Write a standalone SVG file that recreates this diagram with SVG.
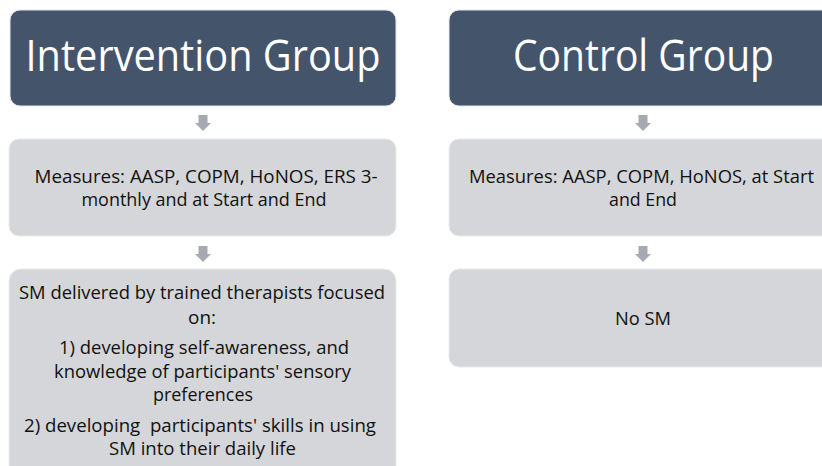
<svg xmlns="http://www.w3.org/2000/svg" width="822" height="466" viewBox="0 0 822 466">
<style>
.hdr{fill:#44546A;stroke:#E4E6EA;stroke-width:1}
.box{fill:#D5D6D9;stroke:#E9EAEC;stroke-width:1}
.ht{font-family:"Open Sans","Liberation Sans",sans-serif;font-size:44px;fill:#FFFFFF;text-anchor:middle}
.bt{font-family:"Open Sans","Liberation Sans",sans-serif;font-size:18px;fill:#111111;text-anchor:middle}
.arr{fill:#A6A9AF}
</style>
<defs>
<path id="darrow" d="M-4.5,0 H4.5 V8 H8 L0,16 L-8,8 H-4.5 Z"/>
</defs>
<rect width="822" height="466" fill="#FFFFFF"/>
<g id="connectors">
<use href="#darrow" class="arr" x="203" y="115"/>
<use href="#darrow" class="arr" x="203" y="246"/>
<use href="#darrow" class="arr" x="643" y="115"/>
<use href="#darrow" class="arr" x="643" y="246"/>
</g>
<g id="intervention-group">
<rect class="hdr" x="10" y="10" width="386" height="96" rx="10"/>
<text class="ht" x="203" y="71" textLength="355" lengthAdjust="spacingAndGlyphs">Intervention Group</text>
</g>
<g id="intervention-measures">
<rect class="box" x="9" y="139" width="387" height="97" rx="10"/>
<text class="bt" x="206" y="182.5" textLength="343" lengthAdjust="spacingAndGlyphs">Measures: AASP, COPM, HoNOS, ERS 3-</text>
<text class="bt" x="204" y="205.5" textLength="245" lengthAdjust="spacingAndGlyphs">monthly and at Start and End</text>
</g>
<g id="intervention-sm">
<rect class="box" x="9" y="269" width="387" height="215" rx="12"/>
<text class="bt" x="202" y="299" textLength="366" lengthAdjust="spacingAndGlyphs">SM delivered by trained therapists focused</text>
<text class="bt" x="202" y="323.5" textLength="28" lengthAdjust="spacingAndGlyphs">on:</text>
<text class="bt" x="204" y="354" textLength="290" lengthAdjust="spacingAndGlyphs">1) developing self-awareness, and</text>
<text class="bt" x="202.5" y="377.5" textLength="297" lengthAdjust="spacingAndGlyphs">knowledge of participants' sensory</text>
<text class="bt" x="203" y="400.5" textLength="100" lengthAdjust="spacingAndGlyphs">preferences</text>
<text class="bt" x="200" y="432" textLength="352" lengthAdjust="spacingAndGlyphs" xml:space="preserve">2) developing  participants' skills in using</text>
<text class="bt" x="202.5" y="455" textLength="187" lengthAdjust="spacingAndGlyphs">SM into their daily life</text>
</g>
<g id="control-group">
<rect class="hdr" x="449" y="10" width="400" height="96" rx="10"/>
<text class="ht" x="643.5" y="71" textLength="261" lengthAdjust="spacingAndGlyphs">Control Group</text>
</g>
<g id="control-measures">
<rect class="box" x="449" y="139" width="400" height="97" rx="10"/>
<text class="bt" x="641.5" y="182.5" textLength="345" lengthAdjust="spacingAndGlyphs">Measures: AASP, COPM, HoNOS, at Start</text>
<text class="bt" x="643" y="205.5" textLength="68" lengthAdjust="spacingAndGlyphs">and End</text>
</g>
<g id="control-sm">
<rect class="box" x="449" y="269" width="400" height="98" rx="10"/>
<text class="bt" x="643" y="325" textLength="56" lengthAdjust="spacingAndGlyphs">No SM</text>
</g>
</svg>
